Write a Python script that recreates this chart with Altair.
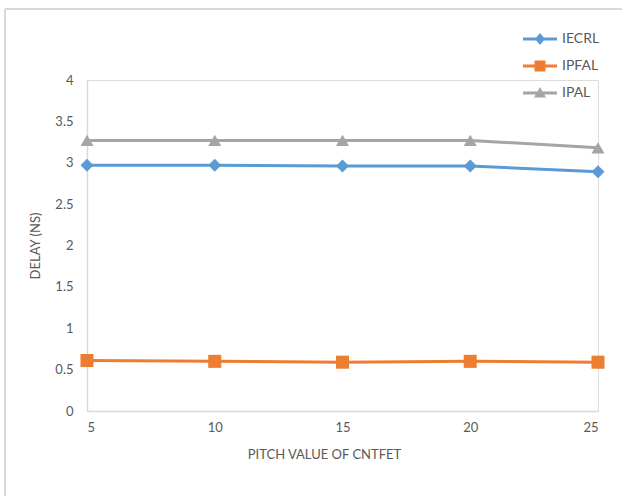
import altair as alt
import pandas as pd

# Pitch values of the CNTFET (x axis)
pitch = [5, 10, 15, 20, 25]

# Delay in ns for each adder design
iecrl = [2.97, 2.97, 2.96, 2.96, 2.89]
ipfal = [0.61, 0.60, 0.59, 0.60, 0.59]
ipal = [3.27, 3.27, 3.27, 3.27, 3.18]

series_names = ["IECRL", "IPFAL", "IPAL"]
series_colors = ["#5B9BD5", "#ED7D31", "#A5A5A5"]
series_shapes = ["diamond", "square", "triangle-up"]

rows = []
for name, vals in zip(series_names, [iecrl, ipfal, ipal]):
    for p, v in zip(pitch, vals):
        rows.append({"pitch": p, "delay": v, "series": name})
df = pd.DataFrame(rows)

FONT = "Lato, sans-serif"
TEXT = "#595959"
AXIS_LINE = "#D9D9D9"

# Legend glyphs: a short line segment with the series marker on it
line_part = "M-1.7,-0.15L1.7,-0.15L1.7,0.15L-1.7,0.15Z"
legend_paths = [
    line_part + "M0,-0.6L0.5,0L0,0.6L-0.5,0Z",
    line_part + "M-0.55,-0.55L0.55,-0.55L0.55,0.55L-0.55,0.55Z",
    line_part + "M0,-0.6L0.6,0.45L-0.6,0.45Z",
]

x_enc = alt.X(
    "pitch:Q",
    scale=alt.Scale(domain=[5, 25], nice=False, zero=False),
    axis=alt.Axis(
        values=pitch,
        title="PITCH VALUE OF CNTFET",
        grid=False,
        ticks=False,
        domainColor=AXIS_LINE,
        domainWidth=1.5,
        labelColor=TEXT,
        labelFont=FONT,
        labelFontSize=13,
        labelPadding=10,
        titleColor=TEXT,
        titleFont=FONT,
        titleFontSize=13,
        titleFontWeight="normal",
        titlePadding=14,
        titleX=237,
    ),
)
y_enc = alt.Y(
    "delay:Q",
    scale=alt.Scale(domain=[0, 4], nice=False),
    axis=alt.Axis(
        values=[0, 0.5, 1, 1.5, 2, 2.5, 3, 3.5, 4],
        format="~g",
        title="DELAY (NS)",
        grid=False,
        ticks=False,
        domainColor=AXIS_LINE,
        domainWidth=1.5,
        labelColor=TEXT,
        labelFont=FONT,
        labelFontSize=13,
        labelPadding=14,
        titleColor=TEXT,
        titleFont=FONT,
        titleFontSize=13,
        titleFontWeight="normal",
        titlePadding=12,
    ),
)

base = alt.Chart(df)
layers = []

# Light frame along the left and top of the chart area
frame_data = alt.Data(values=[{"k": 1}])
layers.append(
    alt.Chart(frame_data).mark_rule(color=AXIS_LINE, strokeWidth=2, clip=False).encode(
        x=alt.value(-82), y=alt.value(-71), y2=alt.value(420)
    )
)
layers.append(
    alt.Chart(frame_data).mark_rule(color=AXIS_LINE, strokeWidth=2, clip=False).encode(
        x=alt.value(-82), x2=alt.value(540), y=alt.value(-71)
    )
)

# One line per series
for name, col in zip(series_names, series_colors):
    layers.append(
        base.transform_filter(alt.datum.series == name)
        .mark_line(strokeWidth=3, color=col)
        .encode(x=x_enc, y=y_enc)
    )

# Markers per series, each carrying its own legend entry
for i, (name, col, shp, path) in enumerate(zip(series_names, series_colors, series_shapes, legend_paths)):
    layers.append(
        base.transform_filter(alt.datum.series == name)
        .mark_point(filled=True, opacity=1, size=170, shape=shp)
        .encode(
            x=x_enc,
            y=y_enc,
            color=alt.Color(
                "series:N",
                scale=alt.Scale(domain=[name], range=[col]),
                legend=alt.Legend(
                    orient="none",
                    legendX=443,
                    legendY=-51 + 27 * i,
                    title=None,
                    symbolType=path,
                    symbolSize=400,
                    symbolStrokeWidth=0,
                    symbolOpacity=1,
                    labelOffset=12,
                    labelColor=TEXT,
                    labelFont=FONT,
                    labelFontSize=14,
                ),
            ),
        )
    )

chart = (
    alt.layer(*layers)
    .resolve_scale(color="independent")
    .resolve_legend(color="independent")
    .properties(
        width=511,
        height=331,
        autosize=alt.AutoSizeParams(type="none"),
        padding={"left": 87, "top": 80, "right": 24, "bottom": 85},
    )
    .configure_view(stroke=None)
    .configure(background="white")
)

chart.save("out.html", embed_options={"renderer": "svg", "actions": False})
